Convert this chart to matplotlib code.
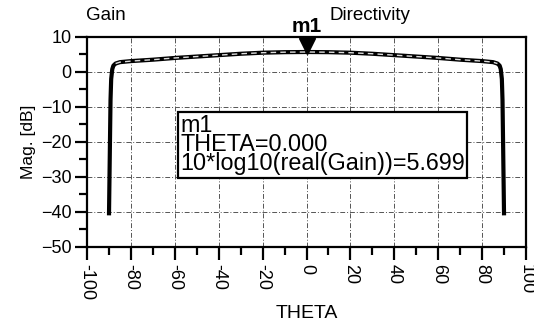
import numpy as np
import matplotlib.pyplot as plt

plt.rcParams['font.family'] = ['Liberation Sans', 'DejaVu Sans']

# Data
theta = [-90.0, -89.6, -89.3, -89.0, -88.5, -88.0, -87.0, -85.0, -80.0, -70.0, -60.0,
         -50.0, -40.0, -30.0, -20.0, -10.0, 0.0, 10.0, 20.0, 30.0, 40.0, 50.0,
         60.0, 70.0, 80.0, 85.0, 87.0, 88.0, 88.5, 89.0, 89.3, 89.6, 90.0]
gain_db = [-41.0, -22.0, -8.0, -2.0, 0.8, 1.8, 2.4, 2.8, 3.1, 3.5, 4.0,
           4.4, 4.8, 5.2, 5.5, 5.65, 5.699, 5.65, 5.5, 5.2, 4.8, 4.4,
           4.0, 3.5, 3.1, 2.8, 2.4, 1.8, 0.8, -2.0, -8.0, -22.0, -41.0]
dir_theta = [-87.0, -85.0, -80.0, -70.0, -60.0, -50.0, -40.0, -30.0, -20.0, -10.0, 0.0,
             10.0, 20.0, 30.0, 40.0, 50.0, 60.0, 70.0, 80.0, 85.0, 87.0]
dir_db = [2.4, 2.8, 3.1, 3.5, 4.0, 4.4, 4.8, 5.2, 5.5, 5.65, 5.7,
          5.65, 5.5, 5.2, 4.8, 4.4, 4.0, 3.5, 3.1, 2.8, 2.4]
marker_theta = 0.0
marker_val = 5.699

fig = plt.figure(figsize=(5.34, 3.3), dpi=100)
ax = fig.add_axes([0.163, 0.252, 0.822, 0.636])

ax.plot(theta, gain_db, color='black', lw=3.0, solid_capstyle='butt')
ax.plot(dir_theta, dir_db, color='#dddddd', lw=1.0, ls=(0, (4, 3)))

ax.set_xlim(-100, 100)
ax.set_ylim(-50, 10)
ax.set_xticks(np.arange(-100, 101, 20))
ax.set_xticks(np.arange(-90, 100, 20), minor=True)
ax.set_yticks(np.arange(-50, 11, 10))
ax.set_yticks(np.arange(-45, 10, 10), minor=True)
ax.set_xticklabels([str(v) for v in range(-100, 101, 20)], rotation=270)
ax.tick_params(which='major', direction='out', length=9, width=1.6, labelsize=13)
ax.tick_params(which='minor', direction='out', length=6, width=1.6)
ax.tick_params(axis='x', pad=3)
ax.tick_params(axis='y', pad=2)
for s in ax.spines.values():
    s.set_linewidth(1.6)

ax.grid(True, which='major', color='#555555', ls=(0, (5, 2, 1, 2)), lw=0.7)

ax.set_xlabel('THETA', fontsize=14, labelpad=4)
ax.set_ylabel('Mag. [dB]', fontsize=12.5, labelpad=4)

# marker
ax.plot([marker_theta], [marker_val + 1.8], marker='v', ms=12, color='black',
        clip_on=False, zorder=5)
ax.text(marker_theta, 10.2, 'm1', ha='center', va='bottom', fontsize=15,
        fontweight='bold')
ax.text(-57.5, -20.8,
        'm1\nTHETA=%.3f\n10*log10(real(Gain))=%.3f' % (marker_theta, marker_val),
        ha='left', va='center', fontsize=16.8, linespacing=0.78,
        bbox=dict(boxstyle='square,pad=0.1', fc='white', ec='black', lw=1.6))

fig.text(0.198, 0.952, 'Gain', ha='center', va='center', fontsize=13.5)
fig.text(0.693, 0.952, 'Directivity', ha='center', va='center', fontsize=13.5)

fig.savefig('out.png', dpi=100)
